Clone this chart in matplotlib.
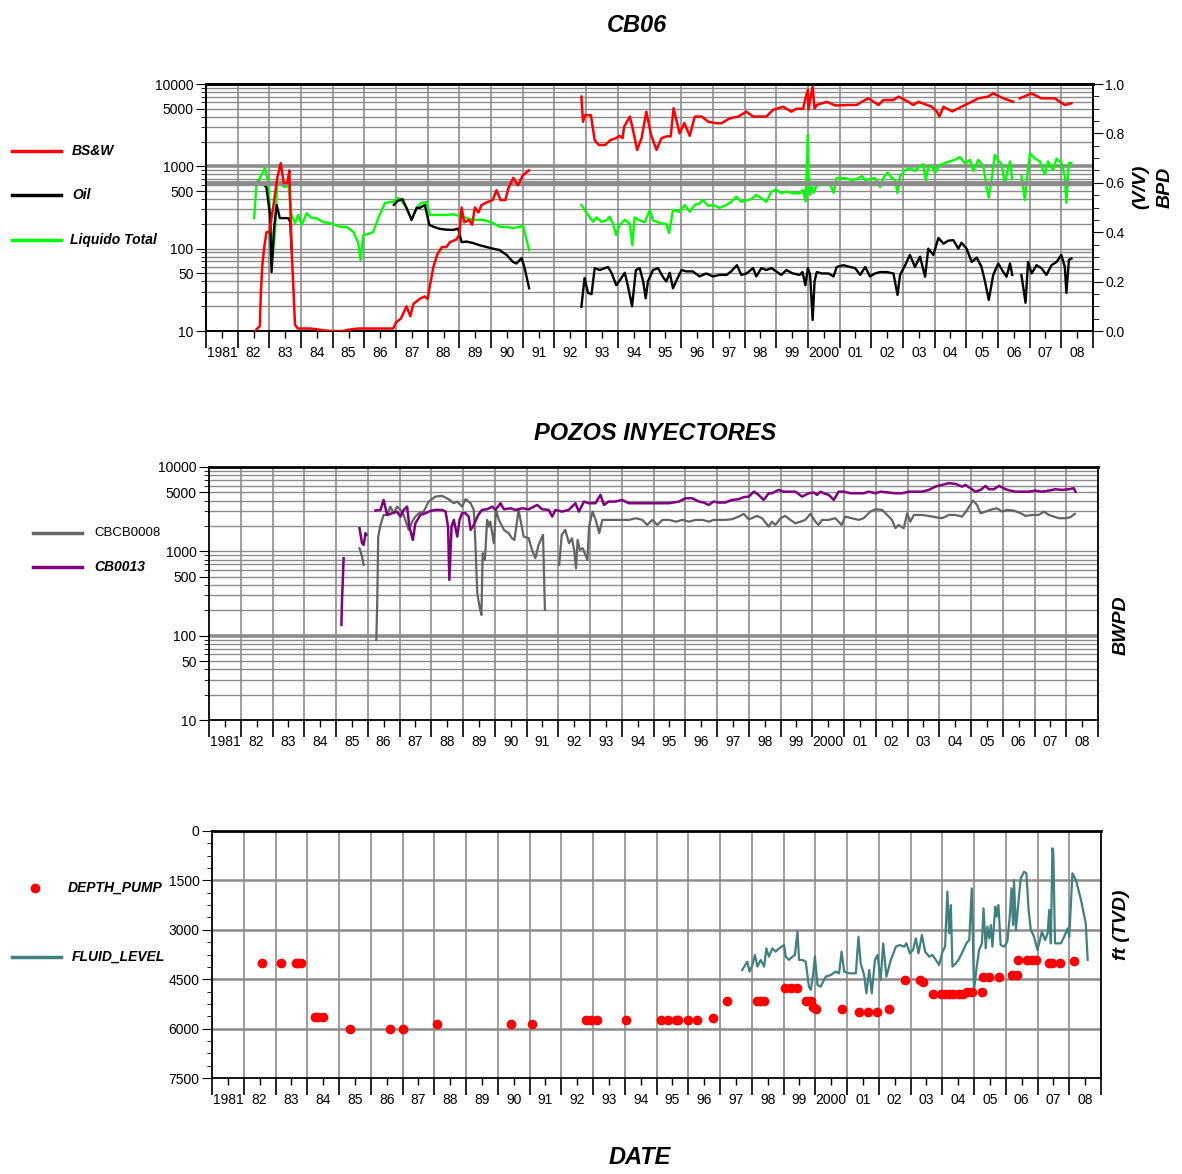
import numpy as np
import matplotlib
matplotlib.use("Agg")
import matplotlib.pyplot as plt
from matplotlib.ticker import FixedLocator, FixedFormatter, NullFormatter
from matplotlib.lines import Line2D

FONT = ['Liberation Sans', 'DejaVu Sans']
plt.rcParams['font.family'] = FONT

nan = np.nan
# ---------------- Panel 1 : CB06 ----------------
bsw_years = [1982.55, 1982.62, 1982.70, 1982.73, 1982.78, 1982.85, 1982.91, 1983.00, 1983.12, 1983.25,
             1983.36, 1983.45, 1983.57, 1983.63, 1983.70, 1983.81, 1983.90, 1984.30, 1984.60, 1984.90,
             1985.30, 1985.50, 1985.80, 1986.20, 1986.60, 1986.91, 1987.00, 1987.15, 1987.33, 1987.45,
             1987.55, 1987.75, 1987.90, 1988.00, 1988.05, 1988.17, 1988.30, 1988.45, 1988.59, 1988.70,
             1988.90, 1989.00, 1989.07, 1989.15, 1989.30, 1989.40, 1989.49, 1989.60, 1989.70, 1989.85,
             1990.05, 1990.17, 1990.30, 1990.45, 1990.55, 1990.70, 1990.85, 1991.00, 1991.19,
             1992.00,
             1992.85, 1992.90, 1992.97, 1993.15, 1993.27, 1993.40, 1993.60, 1993.77, 1993.95, 1994.05,
             1994.15, 1994.20, 1994.38, 1994.48, 1994.61, 1994.75, 1994.90, 1995.05, 1995.22, 1995.38,
             1995.54, 1995.67, 1995.76, 1995.95, 1996.10, 1996.27, 1996.43, 1996.65, 1996.86, 1997.11,
             1997.27, 1997.53, 1997.80, 1998.06, 1998.27, 1998.53, 1998.69, 1998.90, 1999.22, 1999.48,
             1999.64, 1999.85, 1999.92, 2000.00, 2000.02, 2000.15, 2000.21, 2000.28, 2000.60, 2000.86,
             2001.28, 2001.54, 2001.70, 2001.91, 2002.23, 2002.38, 2002.70, 2002.86, 2003.17, 2003.33,
             2003.49, 2003.91, 2004.07, 2004.15, 2004.28, 2004.56, 2004.85, 2005.17, 2005.38, 2005.69,
             2005.85, 2006.17, 2006.48, 2006.58, 2006.69, 2007.06, 2007.37, 2007.79, 2008.11, 2008.32]
bsw_values = [0.00, 0.01, 0.02, 0.15, 0.27, 0.35, 0.40, 0.40, 0.50, 0.62,
              0.68, 0.60, 0.60, 0.65, 0.34, 0.025, 0.01, 0.01, 0.005, 0.00,
              0.00, 0.005, 0.01, 0.01, 0.01, 0.01, 0.035, 0.05, 0.10, 0.06,
              0.11, 0.13, 0.14, 0.13, 0.17, 0.255, 0.31, 0.34, 0.34, 0.36,
              0.37, 0.39, 0.50, 0.44, 0.45, 0.43, 0.50, 0.48, 0.51, 0.52,
              0.53, 0.57, 0.53, 0.53, 0.58, 0.62, 0.59, 0.63, 0.65,
              nan,
              0.949, 0.847, 0.874, 0.874, 0.773, 0.753, 0.753, 0.773, 0.781, 0.79,
              0.781, 0.827, 0.868, 0.814, 0.733, 0.781, 0.888, 0.794, 0.733, 0.781,
              0.788, 0.788, 0.902, 0.80, 0.842, 0.79, 0.868, 0.868, 0.847, 0.841,
              0.841, 0.861, 0.868, 0.888, 0.868, 0.868, 0.868, 0.895, 0.908, 0.888,
              0.90, 0.90, 0.94, 0.976, 0.897, 0.989, 0.90, 0.915, 0.928, 0.913,
              0.915, 0.915, 0.928, 0.942, 0.915, 0.935, 0.935, 0.949, 0.928, 0.915,
              0.928, 0.908, 0.889, 0.868, 0.908, 0.889, 0.908, 0.928, 0.942, 0.949,
              0.962, 0.942, 0.928, nan, 0.942, 0.962, 0.942, 0.942, 0.915, 0.922]

oil_years = [1982.68, 1982.75, 1982.81, 1982.91, 1983.02, 1983.07, 1983.15, 1983.23, 1983.33, 1983.45,
             1983.60, 1983.66, 1983.70,
             1985.00,
             1986.93, 1987.05, 1987.20, 1987.33, 1987.49, 1987.65, 1987.75, 1987.91, 1988.05, 1988.17,
             1988.38, 1988.60, 1988.80, 1988.96, 1989.07, 1989.22, 1989.43, 1989.64, 1989.85, 1990.06,
             1990.27, 1990.49, 1990.69, 1990.80, 1990.96, 1991.06, 1991.20,
             1992.00,
             1992.85, 1992.95, 1993.06, 1993.17, 1993.27, 1993.43, 1993.59, 1993.69, 1993.80, 1993.95,
             1994.06, 1994.22, 1994.32, 1994.45, 1994.57, 1994.69, 1994.80, 1994.88, 1994.95, 1995.11,
             1995.27, 1995.43, 1995.53, 1995.64, 1995.74, 1995.85, 1996.01, 1996.16, 1996.37, 1996.58,
             1996.79, 1997.00, 1997.21, 1997.43, 1997.58, 1997.76, 1997.90, 1998.06, 1998.27, 1998.37,
             1998.53, 1998.69, 1998.85, 1999.00, 1999.16, 1999.32, 1999.53, 1999.74, 1999.83, 1999.92,
             2000.00, 2000.07, 2000.15, 2000.21, 2000.28, 2000.44, 2000.65, 2000.81, 2000.91, 2001.12,
             2001.33, 2001.49, 2001.65, 2001.81, 2001.96, 2002.12, 2002.28, 2002.49, 2002.70, 2002.83,
             2002.91, 2003.07, 2003.22, 2003.38, 2003.54, 2003.70, 2003.80, 2003.96, 2004.12, 2004.28,
             2004.43, 2004.59, 2004.75, 2004.85, 2005.01, 2005.17, 2005.33, 2005.48, 2005.59, 2005.71,
             2005.85, 2006.01, 2006.13, 2006.27, 2006.38, 2006.45, 2006.60, 2006.74, 2006.87, 2006.95,
             2007.06, 2007.22, 2007.37, 2007.53, 2007.69, 2007.85, 2008.00, 2008.11, 2008.16, 2008.24,
             2008.32]
oil_values = [646, 600, 630, 550, 257, 52, 178, 340, 235, 235,
              235, 210, 100,
              nan,
              340, 380, 400, 313, 224, 313, 313, 340, 194, 185,
              174, 170, 169, 175, 120, 122, 117, 110, 105, 100,
              96, 84, 69, 66, 77, 58, 33,
              nan,
              19.7, 44, 29, 28, 58, 55, 58, 60, 51, 36,
              41, 51, 35, 20, 55, 58, 40, 25, 40, 55,
              58, 45, 40, 51, 33, 41, 55, 53, 53, 46,
              50, 46, 48, 48, 53, 63, 48, 50, 58, 46,
              58, 55, 58, 53, 48, 55, 50, 48, 52, 36,
              58, 48, 13.6, 40, 52, 50, 50, 46, 60, 63,
              60, 58, 48, 60, 46, 50, 52, 52, 50, 27.4,
              48, 63, 84, 60, 80, 45.6, 100, 84, 135, 115,
              125, 127, 100, 118, 100, 69, 78, 60, 40, 23.8,
              48, 66, 55, 45.6, 66, 48, nan, 48, 22, 69,
              50, 63, 58, 48, 63, 69, 84, 60, 29, 73,
              76]

liq_years = [1982.52, 1982.60, 1982.70, 1982.86, 1982.97, 1983.04, 1983.10, 1983.18, 1983.25, 1983.33,
             1983.46, 1983.60, 1983.70, 1983.81, 1983.91, 1984.02, 1984.18, 1984.33, 1984.49, 1984.70,
             1984.91, 1985.23, 1985.44, 1985.65, 1985.80, 1985.88, 1985.96, 1986.17, 1986.28, 1986.44,
             1986.65, 1986.91, 1987.07, 1987.17, 1987.33, 1987.49, 1987.65, 1987.80, 1987.96, 1988.07,
             1988.28, 1988.59, 1988.80, 1989.12, 1989.43, 1989.75, 1990.06, 1990.27, 1990.49, 1990.69,
             1990.90, 1991.01, 1991.20,
             1992.00,
             1992.85, 1993.06, 1993.22, 1993.33, 1993.48, 1993.64, 1993.74, 1993.85, 1993.95, 1994.06,
             1994.22, 1994.38, 1994.46, 1994.53, 1994.69, 1994.85, 1995.01, 1995.11, 1995.27, 1995.43,
             1995.53, 1995.62, 1995.74, 1995.95, 1996.11, 1996.27, 1996.43, 1996.58, 1996.69, 1996.85,
             1997.00, 1997.21, 1997.43, 1997.58, 1997.74, 1997.90, 1998.06, 1998.21, 1998.37, 1998.58,
             1998.69, 1998.85, 1999.00, 1999.16, 1999.32, 1999.53, 1999.74, 1999.84, 1999.93, 2000.00,
             2000.02, 2000.07, 2000.13, 2000.18, 2000.28, 2000.44, 2000.60, 2000.70, 2000.81, 2000.91,
             2001.18, 2001.39, 2001.54, 2001.70, 2001.81, 2001.96, 2002.12, 2002.28, 2002.38, 2002.52,
             2002.65, 2002.75, 2002.83, 2002.91, 2003.07, 2003.22, 2003.38, 2003.54, 2003.64, 2003.72,
             2003.80, 2003.91, 2004.01, 2004.17, 2004.33, 2004.49, 2004.64, 2004.80, 2004.96, 2005.12,
             2005.22, 2005.38, 2005.54, 2005.64, 2005.71, 2005.82, 2005.90, 2006.01, 2006.11, 2006.22,
             2006.30, 2006.38, 2006.45, 2006.60, 2006.74, 2006.85, 2006.93, 2007.01, 2007.16, 2007.32,
             2007.48, 2007.58, 2007.74, 2007.85, 2008.00, 2008.11, 2008.16, 2008.24, 2008.32]
liq_values = [235, 646, 720, 950, 646, 210, 79, 160, 646, 646,
              560, 580, 257, 205, 257, 194, 270, 235, 235, 210,
              205, 184, 184, 160, 120, 73, 146, 153, 160, 235,
              360, 370, 415, 380, 313, 224, 313, 360, 370, 257,
              257, 257, 262, 243, 224, 224, 205, 184, 184, 178,
              184, 190, 96,
              nan,
              340, 257, 212, 240, 212, 220, 245, 200, 146, 195,
              224, 200, 110, 240, 220, 210, 295, 220, 210, 200,
              200, 155, 295, 280, 340, 280, 340, 355, 390, 330,
              340, 313, 340, 370, 430, 370, 385, 400, 450, 400,
              370, 495, 520, 470, 495, 470, 470, 520, 375, 2400,
              785, 447, 560, 475, 594, 594, 594, 620, 475, 720,
              720, 680, 700, 760, 680, 700, 720, 560, 720, 840,
              720, 680, 475, 760, 900, 950, 880, 1000, 1060, 680,
              950, 1030, 840, 1030, 1100, 1150, 1200, 1300, 1080, 1200,
              880, 1200, 1000, 560, 415, 800, 1380, 1170, 1080, 600,
              880, 1150, 700, nan, 760, 390, 800, 1450, 1250, 1150,
              800, 1150, 900, 1240, 1100, 760, 360, 1100, 1100]

# ---------------- Panel 2 : POZOS INYECTORES ----------------
cb13_years = [1985.17, 1985.19, 1985.24,
              1985.50,
              1985.74, 1985.82, 1985.87, 1985.93, 1985.96,
              1986.10,
              1986.24, 1986.40, 1986.50, 1986.61, 1986.77, 1986.92, 1987.03, 1987.13, 1987.24, 1987.31,
              1987.42, 1987.50, 1987.66, 1987.82, 1987.97, 1988.13, 1988.34, 1988.45, 1988.53, 1988.57,
              1988.64, 1988.71, 1988.82, 1988.89, 1988.97, 1989.08, 1989.18, 1989.24, 1989.34, 1989.48,
              1989.60, 1989.76, 1989.92, 1990.02, 1990.18, 1990.29, 1990.50, 1990.65, 1990.86, 1991.07,
              1991.34, 1991.49, 1991.70, 1991.81, 1991.91, 1992.12, 1992.33, 1992.54, 1992.65, 1992.81,
              1992.96, 1993.17, 1993.33, 1993.44, 1993.59, 1993.80, 1994.01, 1994.22, 1994.43, 1994.64,
              1994.85, 1995.17, 1995.49, 1995.80, 1996.01, 1996.22, 1996.43, 1996.58, 1996.74, 1996.89,
              1997.05, 1997.26, 1997.47, 1997.68, 1997.84, 1998.00, 1998.16, 1998.31, 1998.47, 1998.63,
              1998.73, 1998.94, 1999.10, 1999.26, 1999.47, 1999.68, 1999.89, 2000.05, 2000.15, 2000.26,
              2000.36, 2000.52, 2000.68, 2000.83, 2000.92, 2000.99, 2001.20, 2001.41, 2001.62, 2001.78,
              2001.99, 2002.15, 2002.41, 2002.62, 2002.83, 2003.04, 2003.25, 2003.46, 2003.67, 2003.88,
              2004.09, 2004.30, 2004.51, 2004.72, 2004.83, 2004.98, 2005.14, 2005.30, 2005.46, 2005.56,
              2005.72, 2005.88, 2006.09, 2006.24, 2006.40, 2006.61, 2006.82, 2007.03, 2007.24, 2007.45,
              2007.66, 2007.87, 2008.08, 2008.24, 2008.29]
cb13_values = [134, 265, 828,
               nan,
               1880, 1248, 1191, 1640, 1567,
               nan,
               3040, 3100, 4070, 2700, 2830, 2960, 2580, 3100, 3390, 1963,
               1366, 2150, 2700, 2830, 3010, 3100, 3100, 2960, 1963, 458,
               1963, 2360, 1496, 2360, 2830, 2830, 2580, 1796, 2056, 2700,
               3100, 3155, 3390, 3100, 3718, 3155, 3240, 3100, 3240, 3155,
               3550, 3155, 3100, 2580, 3100, 2960, 3100, 3718, 2960, 3890,
               3718, 3718, 4670, 3550, 3890, 3890, 4070, 3718, 3718, 3718,
               3718, 3718, 3718, 3890, 4260, 4260, 3890, 3790, 3550, 3890,
               3790, 3790, 4070, 4150, 4390, 4460, 5100, 4670, 4070, 4880,
               4880, 5350, 5100, 5100, 5100, 4460, 4880, 4980, 4670, 5100,
               4880, 4670, 4070, 5100, 5100, 5100, 4880, 4880, 4880, 5100,
               4880, 5100, 4980, 4880, 4880, 5100, 5100, 5100, 5350, 5860,
               6140, 6430, 6310, 5860, 6140, 5600, 5100, 5350, 5970, 5450,
               5450, 5970, 5450, 5250, 5100, 5100, 5100, 5250, 5100, 5250,
               5450, 5350, 5450, 5600, 5100]

cb08_years = [1985.74, 1985.82, 1985.87,
              1986.10,
              1986.27, 1986.30, 1986.33, 1986.40, 1986.50, 1986.61, 1986.71, 1986.82, 1986.92, 1987.03,
              1987.13, 1987.29, 1987.40, 1987.50, 1987.61, 1987.76, 1987.92, 1988.13, 1988.34, 1988.55,
              1988.71, 1988.82, 1988.97, 1989.08, 1989.24, 1989.34, 1989.39, 1989.45, 1989.52, 1989.58,
              1989.62, 1989.69, 1989.76, 1989.81, 1989.86, 1989.97, 1990.04, 1990.13, 1990.29, 1990.44,
              1990.54, 1990.62, 1990.75, 1990.91, 1991.07, 1991.17, 1991.28, 1991.38, 1991.45, 1991.52,
              1991.58,
              1991.80,
              1992.03, 1992.11, 1992.22, 1992.34, 1992.43, 1992.50, 1992.56, 1992.61, 1992.68, 1992.77,
              1992.92, 1992.97, 1993.08, 1993.18, 1993.29, 1993.39, 1993.60, 1993.81, 1994.02, 1994.23,
              1994.44, 1994.65, 1994.80, 1994.96, 1995.12, 1995.28, 1995.49, 1995.70, 1995.91, 1996.12,
              1996.33, 1996.54, 1996.75, 1996.89, 1997.05, 1997.26, 1997.47, 1997.68, 1997.84, 1998.00,
              1998.10, 1998.26, 1998.42, 1998.63, 1998.73, 1998.84, 1999.00, 1999.15, 1999.31, 1999.47,
              1999.63, 1999.78, 1999.94, 2000.10, 2000.20, 2000.31, 2000.52, 2000.73, 2000.92, 2001.04,
              2001.25, 2001.46, 2001.62, 2001.83, 2001.99, 2002.20, 2002.36, 2002.51, 2002.62, 2002.72,
              2002.88, 2002.99, 2003.09, 2003.20, 2003.46, 2003.67, 2003.88, 2004.09, 2004.30, 2004.51,
              2004.72, 2004.88, 2005.06, 2005.19, 2005.30, 2005.46, 2005.67, 2005.82, 2005.98, 2006.14,
              2006.35, 2006.56, 2006.72, 2006.93, 2007.14, 2007.29, 2007.45, 2007.61, 2007.77, 2007.98,
              2008.13, 2008.27]
cb08_values = [1090, 866, 690,
               nan,
               89, 265, 1496, 2056, 2700, 2700, 3390, 2830, 3390, 3100,
               2700, 1796, 2250, 2580, 2830, 2960, 3890, 4460, 4550, 4150,
               3718, 3890, 3390, 4150, 3718, 3100, 1248, 318, 221, 176,
               948, 790, 2360, 1963, 2250, 1248, 3100, 2360, 1796, 1640,
               1430, 1366, 3100, 1496, 1430, 1040, 828, 1191, 1366, 1567,
               202,
               nan,
               690, 1567, 1796, 1248, 1430, 1040, 630, 1366, 1040, 1090,
               790, 1963, 2960, 2360, 1640, 2360, 2360, 2360, 2360, 2360,
               2470, 2360, 2056, 2360, 2056, 2360, 2360, 2250, 2360, 2250,
               2360, 2360, 2250, 2360, 2360, 2360, 2400, 2580, 2780, 2400,
               2470, 2630, 2470, 1963, 2250, 2056, 2470, 2630, 2360, 2150,
               2250, 2360, 2780, 2250, 2056, 2360, 2360, 2470, 2056, 2580,
               2470, 2360, 2470, 2960, 3155, 3100, 2700, 2360, 1880, 2056,
               1880, 2830, 2250, 2700, 2700, 2630, 2540, 2470, 2700, 2700,
               2580, 3100, 4000, 3550, 2830, 2960, 3155, 3240, 2960, 3100,
               3040, 2830, 2630, 2700, 2700, 2960, 2700, 2580, 2470, 2470,
               2540, 2780]

# ---------------- Panel 3 : pump depth / fluid level ----------------
pump_years = [1982.56, 1983.18, 1983.66, 1983.72, 1983.80, 1984.25, 1984.35, 1984.50, 1985.35, 1986.62,
              1987.00, 1988.10, 1990.42, 1991.08, 1992.78, 1992.95, 1993.13, 1994.04, 1995.13, 1995.35,
              1995.60, 1995.68, 1995.98, 1996.26, 1996.77, 1997.21, 1998.16, 1998.26, 1998.39, 1999.05,
              1999.23, 1999.41, 1999.70, 1999.86, 1999.93, 2000.01, 2000.83, 2001.38, 2001.67, 2001.93,
              2002.33, 2002.83, 2003.29, 2003.40, 2003.72, 2003.95, 2004.09, 2004.22, 2004.35, 2004.53,
              2004.64, 2004.79, 2004.93, 2005.25, 2005.27, 2005.48, 2005.79, 2006.19, 2006.37, 2006.40,
              2006.68, 2006.84, 2006.95, 2007.35, 2007.47, 2007.71, 2008.16]
pump_depth = [4000, 4000, 4000, 4000, 4000, 5650, 5650, 5650, 6000, 6000,
              6000, 5850, 5870, 5870, 5740, 5740, 5740, 5740, 5740, 5740,
              5740, 5740, 5740, 5740, 5690, 5150, 5160, 5160, 5160, 4780,
              4780, 4780, 5160, 5160, 5330, 5410, 5410, 5485, 5485, 5485,
              5410, 4525, 4525, 4575, 4960, 4960, 4960, 4960, 4960, 4960,
              4960, 4900, 4900, 4880, 4420, 4420, 4420, 4370, 4370, 3915,
              3915, 3915, 3915, 3995, 3995, 3995, 3935]

fl_years = [1997.70, 1997.86, 1997.93, 1998.02, 1998.10, 1998.18, 1998.28, 1998.39, 1998.46, 1998.54,
            1998.65, 1998.75, 1998.86, 1999.02, 1999.07, 1999.17, 1999.28, 1999.36, 1999.44, 1999.49,
            1999.59, 1999.70, 1999.80, 1999.86, 1999.93, 1999.99, 2000.07, 2000.17, 2000.33, 2000.49,
            2000.64, 2000.75, 2000.83, 2000.91, 2001.07, 2001.28, 2001.36, 2001.43, 2001.54, 2001.61,
            2001.70, 2001.78, 2001.88, 2001.96, 2002.06, 2002.14, 2002.24, 2002.38, 2002.54, 2002.66,
            2002.80, 2002.87, 2002.98, 2003.08, 2003.17, 2003.25, 2003.36, 2003.46, 2003.59, 2003.69,
            2003.80, 2003.90, 2004.01, 2004.09, 2004.16, 2004.22, 2004.27, 2004.32, 2004.43, 2004.51,
            2004.64, 2004.76, 2004.85, 2004.93, 2005.00, 2005.08, 2005.16, 2005.25, 2005.30, 2005.37,
            2005.42, 2005.48, 2005.53, 2005.58, 2005.67, 2005.71, 2005.77, 2005.84, 2005.95, 2006.05,
            2006.13, 2006.18, 2006.23, 2006.26, 2006.32, 2006.42, 2006.47, 2006.58, 2006.65, 2006.72,
            2006.79, 2006.89, 2007.00, 2007.05, 2007.14, 2007.24, 2007.32, 2007.37, 2007.42, 2007.47,
            2007.50, 2007.55, 2007.63, 2007.74, 2007.84, 2007.95, 2008.00, 2008.10, 2008.21, 2008.37,
            2008.52, 2008.58]
fl_depth = [4220, 3967, 4270, 4068, 3765, 4118, 3916, 4118, 3563, 3816,
            3563, 3664, 3563, 3462, 3816, 3916, 3816, 3765, 3057, 3916,
            3916, 3967, 4726, 4827, 4372, 3816, 4675, 4726, 4423, 4372,
            4270, 4321, 3664, 4270, 4321, 4321, 3209, 4017, 4372, 4928,
            4220, 4928, 3916, 3765, 4524, 3411, 4423, 3916, 3512, 3462,
            3512, 3411, 3715, 3613, 3259, 3715, 3158, 3664, 3816, 3765,
            3916, 4068, 3664, 3512, 1842, 3107, 2247, 4118, 4017, 3916,
            3664, 3411, 3310, 1741, 4827, 4169, 3613, 3411, 2348, 3563,
            2905, 3259, 2854, 3512, 2297, 2601, 2247, 3462, 3512, 3361,
            2550, 1741, 2854, 1488, 3006, 1943, 1437, 1235, 1285, 2398,
            3006, 3209, 3613, 3411, 3057, 3310, 3107, 2398, 3411, 526,
            678, 3411, 3411, 3411, 3209, 2955, 3209, 1285, 1488, 2095,
            2803, 3916]

year_labels = ['1981'] + ['%02d' % (y % 100) for y in range(1982, 2000)] + ['2000'] + \
              ['%02d' % (y % 100) for y in range(2001, 2009)]

# ---------------- style ----------------
GRID = '#8c8c8c'
W, H = 1182, 1174
fig = plt.figure(figsize=(W / 100, H / 100), dpi=100)


def rect(l, t, r, b):
    return [l / W, 1 - b / H, (r - l) / W, (b - t) / H]


def style_xaxis(ax):
    ax.set_xlim(1981, 2009)
    ax.xaxis.set_major_locator(FixedLocator(np.arange(1981, 2010)))
    ax.xaxis.set_major_formatter(NullFormatter())
    ax.xaxis.set_minor_locator(FixedLocator(np.arange(1981.5, 2009, 1.0)))
    ax.xaxis.set_minor_formatter(FixedFormatter(year_labels))
    ax.tick_params(axis='x', which='major', length=12, width=1.2, direction='out', color='black')
    ax.tick_params(axis='x', which='minor', length=5, width=1.0, direction='out', pad=6,
                   labelsize=10, color='black')
    for yv in np.arange(1982, 2009):
        ax.axvline(yv, color=GRID, lw=1.2, zorder=0)
    for s in ax.spines.values():
        s.set_linewidth(1.3)
        s.set_color('black')
    ax.spines['top'].set_linewidth(2.0)


def log_grid(ax, thick=()):
    for dec in [10, 100, 1000]:
        for m in range(1, 10):
            v = dec * m
            lw = 2.6 if v in thick else 1.0
            ax.axhline(v, color=GRID, lw=lw, zorder=0)
    ax.set_yscale('log')
    ax.set_ylim(10, 10000)
    ax.yaxis.set_major_locator(FixedLocator([10, 50, 100, 500, 1000, 5000, 10000]))
    ax.yaxis.set_major_formatter(FixedFormatter(['10', '50', '100', '500', '1000', '5000', '10000']))
    minors = [d * m for d in [10, 100, 1000] for m in [2, 3, 4, 6, 7, 8, 9]]
    ax.yaxis.set_minor_locator(FixedLocator(minors))
    ax.yaxis.set_minor_formatter(NullFormatter())
    ax.tick_params(axis='y', which='major', length=7, direction='out', labelsize=10, pad=2)
    ax.tick_params(axis='y', which='minor', length=3.5, direction='out')


# ---- Panel 1 ----
ax1 = fig.add_axes(rect(206, 84, 1093, 331))
log_grid(ax1, thick=(1000,))
style_xaxis(ax1)
ax1.plot(liq_years, liq_values, color='#00ff00', lw=1.7, zorder=3)
ax1.plot(oil_years, oil_values, color='black', lw=1.7, zorder=3)
ax1r = ax1.twinx()
ax1r.set_ylim(0, 1)
ax1r.axhline(0.6, color=GRID, lw=3.5, zorder=0)
ax1r.yaxis.set_major_locator(FixedLocator(np.arange(0, 1.01, 0.2)))
ax1r.yaxis.set_major_formatter(FixedFormatter(['0.0', '0.2', '0.4', '0.6', '0.8', '1.0']))
ax1r.yaxis.set_minor_locator(FixedLocator(np.arange(0, 1.0, 0.05)))
ax1r.tick_params(axis='y', which='major', length=7, direction='out', labelsize=10, pad=2)
ax1r.tick_params(axis='y', which='minor', length=4, direction='out')
for s in ax1r.spines.values():
    s.set_linewidth(1.3)
ax1r.spines['top'].set_linewidth(2.0)
ax1r.plot(bsw_years, bsw_values, color='#ff0000', lw=1.8, zorder=4)

# ---- Panel 2 ----
ax2 = fig.add_axes(rect(209, 467, 1098, 720))
log_grid(ax2, thick=(100,))
style_xaxis(ax2)
ax2.plot(cb08_years, cb08_values, color='#646464', lw=1.6, zorder=3)
ax2.plot(cb13_years, cb13_values, color='#800080', lw=1.8, zorder=4)

# ---- Panel 3 ----
ax3 = fig.add_axes(rect(212, 831, 1101, 1078))
style_xaxis(ax3)
ax3.set_ylim(7500, 0)
ax3.yaxis.set_major_locator(FixedLocator([0, 1500, 3000, 4500, 6000, 7500]))
ax3.yaxis.set_major_formatter(FixedFormatter(['0', '1500', '3000', '4500', '6000', '7500']))
ax3.yaxis.set_minor_locator(FixedLocator(np.arange(0, 7500, 375)))
ax3.tick_params(axis='y', which='major', length=7, direction='out', labelsize=10, pad=2)
ax3.tick_params(axis='y', which='minor', length=3.5, direction='out')
for v in [1500, 3000, 4500, 6000]:
    ax3.axhline(v, color=GRID, lw=1.8, zorder=0)
ax3.plot(fl_years, fl_depth, color='#408080', lw=1.6, zorder=3)
ax3.plot(pump_years, pump_depth, 'o', color='#ff0000', ms=6, mec='#ff0000', zorder=4, clip_on=False)

# ---------------- titles / labels ----------------
tkw = dict(fontweight='bold', style='italic', ha='center', va='center')
fig.text(637 / W, 1 - 25 / H, 'CB06', fontsize=17, **tkw)
fig.text(655 / W, 1 - 433 / H, 'POZOS INYECTORES', fontsize=17, **tkw)
fig.text(640 / W, 1 - 1157 / H, 'DATE', fontsize=17, **tkw)
fig.text(1141 / W, 1 - 187 / H, '(V/V)', fontsize=14, rotation=90, **tkw)
fig.text(1165 / W, 1 - 187 / H, 'BPD', fontsize=14, rotation=90, **tkw)
fig.text(1121 / W, 1 - 625 / H, 'BWPD', fontsize=14, rotation=90, **tkw)
fig.text(1122 / W, 1 - 925 / H, 'ft (TVD)', fontsize=14, rotation=90, **tkw)


def legend_line(x0, x1, y, color, lw=2.5):
    fig.add_artist(Line2D([x0 / W, x1 / W], [1 - y / H, 1 - y / H], color=color, lw=lw,
                          transform=fig.transFigure))


lkw = dict(fontweight='bold', style='italic', ha='left', va='center', fontsize=10)
legend_line(12, 61, 151, '#ff0000')
fig.text(72 / W, 1 - 151 / H, 'BS&W', **lkw)
legend_line(12, 61, 195, 'black')
fig.text(72 / W, 1 - 195 / H, 'Oil', **lkw)
legend_line(12, 61, 240, '#00ff00')
fig.text(70 / W, 1 - 240 / H, 'Liquido Total', **lkw)

legend_line(33, 82, 533, '#646464')
fig.text(94 / W, 1 - 533 / H, 'CBCB0008', ha='left', va='center', fontsize=9.5)
legend_line(33, 82, 567, '#800080')
fig.text(94 / W, 1 - 567 / H, 'CB0013', **lkw)

fig.add_artist(Line2D([35 / W], [1 - 888 / H], marker='o', color='#ff0000', ms=6,
                      transform=fig.transFigure))
fig.text(68 / W, 1 - 888 / H, 'DEPTH_PUMP', **lkw)
legend_line(12, 61, 957, '#408080')
fig.text(72 / W, 1 - 957 / H, 'FLUID_LEVEL', **lkw)

fig.savefig('out.png', dpi=100)
